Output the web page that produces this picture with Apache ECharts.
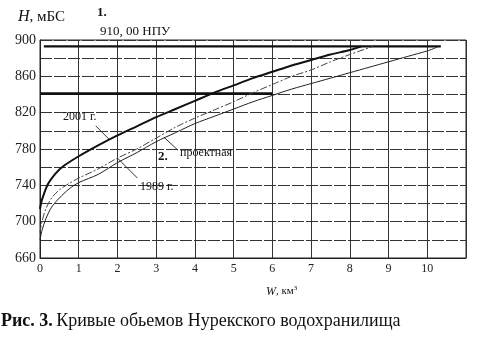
<!DOCTYPE html>
<html><head><meta charset="utf-8">
<script src="https://cdn.jsdelivr.net/npm/echarts@6/dist/echarts.min.js"></script>
<style>html,body{margin:0;padding:0;background:#fff}#c{width:500px;height:339px}</style>
</head><body><div id="c"></div>
<script>
// Data (W, km^3 ; H, m BS)
const W2001 = [0, 0.05, 0.2, 0.4, 0.6, 1, 1.5, 2, 2.5, 3, 3.5, 4, 4.5, 5, 5.5, 6, 6.5, 7, 7.5, 8, 8.3];
const H2001 = [714, 724, 741, 753, 761, 772, 784, 795, 805, 815, 824, 833, 842, 850, 858, 865, 872, 878, 884, 889, 893];
const W1989 = [0, 0.05, 0.15, 0.3, 0.5, 0.75, 1, 1.5, 2, 2.5, 3, 3.5, 4, 4.5, 5, 5.5, 6, 6.5, 7, 7.5, 8, 8.6];
const H1989 = [688, 700, 714, 726, 735, 742, 748, 758, 770, 780, 792, 804, 814, 823, 832, 842, 851, 860, 867, 876, 884, 893];
const WProj = [0, 0.05, 0.15, 0.3, 0.5, 0.75, 1, 1.5, 2, 2.5, 3, 3.5, 4, 4.5, 5, 5.5, 6, 6.5, 7, 7.5, 8, 8.5, 9, 9.5, 10, 10.25];
const HProj = [680, 690, 703, 716, 726, 736, 743, 752, 765, 776, 788, 798, 808, 816, 824, 832, 839, 846, 852, 858, 864, 870, 876, 882, 888, 892];
const npuW = [0.1, 10.35];
const npuH = [893, 893];
const lvlW = [0, 6];
const lvlH = [841, 841];
const xTicks = [0, 1, 2, 3, 4, 5, 6, 7, 8, 9, 10];
const yTicks = [660, 700, 740, 780, 820, 860, 900];

const zip = (a, b) => a.map((v, i) => [v, b[i]]);
const serif = '"Liberation Serif", "DejaVu Serif", serif';
const chart = echarts.init(document.getElementById('c'), null, {renderer: 'canvas'});
const lineColor = '#111';
chart.setOption({
  animation: false,
  backgroundColor: '#fff',
  grid: {left: 40, right: 34, top: 40, bottom: 81, show: true, borderColor: '#222', borderWidth: 1},
  xAxis: {
    type: 'value', min: 0, max: 11, interval: 1,
    axisLine: {show: true, lineStyle: {color: '#222'}},
    axisTick: {show: false},
    splitLine: {show: true, lineStyle: {color: '#333', width: 1}},
    axisLabel: {color: '#222', fontFamily: serif, fontSize: 12, margin: 5,
      formatter: v => xTicks.includes(v) ? String(v) : ''}
  },
  yAxis: {
    type: 'value', min: 660, max: 900, interval: 20,
    axisLine: {show: true, lineStyle: {color: '#222'}},
    axisTick: {show: false},
    splitLine: {show: true, lineStyle: {color: '#333', width: 1, type: [12, 2]}},
    axisLabel: {color: '#222', fontFamily: serif, fontSize: 14, margin: 4,
      formatter: v => yTicks.includes(v) ? String(v) : ''}
  },
  series: [
    {type: 'line', data: zip(npuW, npuH), symbol: 'none', lineStyle: {color: lineColor, width: 2.2}},
    {type: 'line', data: zip(lvlW, lvlH), symbol: 'none', lineStyle: {color: lineColor, width: 2.6}},
    {type: 'line', name: '2001 г.', data: zip(W2001, H2001), symbol: 'none', smooth: 0.3, lineStyle: {color: lineColor, width: 2}},
    {type: 'line', name: '1989 г.', data: zip(W1989, H1989), symbol: 'none', smooth: 0.3, lineStyle: {color: '#444', width: 1, type: [7, 2, 2, 2]}},
    {type: 'line', name: 'проектная', data: zip(WProj, HProj), symbol: 'none', smooth: 0.3, lineStyle: {color: '#222', width: 1}}
  ]
});

// annotation pointers, anchored in data coordinates
const P = (w, h) => chart.convertToPixel({gridIndex: 0}, [w, h]);
const ptr = (a, b) => ({type: 'line', shape: {x1: a[0], y1: a[1], x2: b[0], y2: b[1]}, style: {stroke: '#333', lineWidth: 1}});
const txt = (x, y, text, font) => ({type: 'text', left: x, top: y,
  style: {text: text, font: font + ' ' + serif, fill: '#111'}});
const p2001 = P(1.8, 790), p1989 = P(2.0, 770), pProj = P(3.2, 793);
chart.setOption({graphic: [
  ptr([p2001[0] - 14, p2001[1] - 14], p2001),
  ptr(p1989, [p1989[0] + 20, p1989[1] + 20]),
  ptr(pProj, [pProj[0] + 14, pProj[1] + 13]),
  {type: 'text', left: 18, top: 9, style: {rich: {i: {fontStyle: 'italic', fontFamily: serif, fontSize: 16, fill: '#111'}, n: {fontFamily: serif, fontSize: 15, fill: '#111'}}, text: '{i|H}{n|, мБС}'}},
  txt(97, 6, '1.', 'bold 13px'),
  txt(100, 25, '910, 00 НПУ', '13px'),
  txt(63, 111, '2001 г.', '12px'),
  txt(180, 147, 'проектная', '12px'),
  txt(158, 150, '2.', 'bold 13px'),
  txt(140, 181, '1989 г.', '12px'),
  {type: 'text', left: 266, top: 285, style: {rich: {i: {fontStyle: 'italic', fontFamily: serif, fontSize: 12, fill: '#111'}, n: {fontFamily: serif, fontSize: 11, fill: '#111'}, s: {fontFamily: serif, fontSize: 7, fill: '#111', verticalAlign: 'top', padding: [0, 0, 6, 0]}}, text: '{i|W}{n|, км}{s|3}'}},
  {type: 'text', left: 1, top: 312, style: {rich: {b: {fontWeight: 'bold', fontFamily: serif, fontSize: 18, fill: '#111'}, n: {fontFamily: serif, fontSize: 18, fill: '#111'}}, text: '{b|Рис. 3.} {n|Кривые обьемов Нурекского водохранилища}'}}
]});
</script></body></html>
